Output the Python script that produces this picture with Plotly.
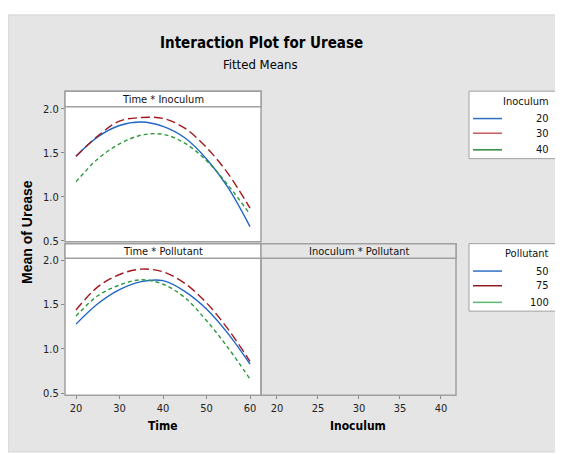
import plotly.graph_objects as go

# page body has an 8px margin, so the figure is drawn 8px smaller and offset
OFF = 8
W, H = 563 - OFF, 454 - OFF

# ---- data ----
time = [20, 25, 30, 35, 40, 45, 50, 55, 60]
inoculum_levels = [20, 30, 40]
pollutant_levels = [50, 75, 100]

inoc_20 = [1.46, 1.68, 1.81, 1.85, 1.80, 1.67, 1.43, 1.10, 0.66]
inoc_30 = [1.46, 1.69, 1.86, 1.90, 1.89, 1.78, 1.56, 1.26, 0.87]
inoc_40 = [1.17, 1.43, 1.60, 1.70, 1.71, 1.61, 1.41, 1.13, 0.80]

poll_50 = [1.28, 1.51, 1.67, 1.76, 1.77, 1.65, 1.45, 1.17, 0.83]
poll_75 = [1.44, 1.70, 1.84, 1.90, 1.87, 1.74, 1.52, 1.22, 0.86]
poll_100 = [1.37, 1.60, 1.72, 1.78, 1.73, 1.58, 1.32, 1.01, 0.66]

y_ticks = [0.5, 1.0, 1.5, 2.0]
time_ticks = [20, 30, 40, 50, 60]
inoc_ticks = [20, 25, 30, 35, 40]

colors = ["#1F66C7", "#A3181E", "#2C9A3C"]
dashes = ["solid", "9px,4px", "4px,3px"]
legend_colors_1 = ["#2F6FC4", "#C85A5E", "#2C8A3C"]
legend_colors_2 = ["#2F6FC4", "#8E1A1E", "#5DB872"]

FONT = "DejaVu Sans Condensed, Liberation Sans Narrow, Roboto, sans-serif"
BORDER = "#A0A0A0"
BG = "#E5E5E5"


def px(x):
    return (x - OFF) / W


def py(y):
    return 1 - (y - OFF) / H


fig = go.Figure()

series_top = [inoc_20, inoc_30, inoc_40]
series_bot = [poll_50, poll_75, poll_100]
for i, ys in enumerate(series_top):
    fig.add_trace(go.Scatter(x=time, y=ys, mode="lines", line=dict(color=colors[i], dash=dashes[i], width=1.4, shape="spline"),
                             xaxis="x", yaxis="y", showlegend=False, hoverinfo="skip"))
for i, ys in enumerate(series_bot):
    fig.add_trace(go.Scatter(x=time, y=ys, mode="lines", line=dict(color=colors[i], dash=dashes[i], width=1.4, shape="spline"),
                             xaxis="x2", yaxis="y2", showlegend=False, hoverinfo="skip"))
fig.add_trace(go.Scatter(x=[None], y=[None], xaxis="x3", yaxis="y3", showlegend=False))

tickfont = dict(family=FONT, size=11, color="#222222")
common = dict(showgrid=False, zeroline=False, showline=False, ticks="outside", ticklen=3,
              tickcolor="#888888", tickwidth=1, tickfont=tickfont, fixedrange=True)

fig.update_layout(
    width=W, height=H, autosize=False,
    margin=dict(l=0, r=0, t=0, b=0),
    paper_bgcolor="white", plot_bgcolor="white",
    xaxis=dict(domain=[px(65), px(261)], range=[17.47, 62.53], anchor="y", showticklabels=False, ticks="",
               showgrid=False, zeroline=False, fixedrange=True),
    yaxis=dict(domain=[py(243), py(105)], range=[0.489, 2.022], anchor="x", tickvals=y_ticks,
               ticktext=[f"{v:.1f}" for v in y_ticks], **common),
    xaxis2=dict(domain=[px(65), px(261)], range=[17.47, 62.53], anchor="y2", tickvals=time_ticks, **common),
    yaxis2=dict(domain=[py(400), py(260)], range=[0.478, 2.022], anchor="x2", tickvals=y_ticks,
                ticktext=[f"{v:.1f}" for v in y_ticks], **common),
    xaxis3=dict(domain=[px(261), px(456)], range=[18.05, 41.83], anchor="y3", tickvals=inoc_ticks, **common),
    yaxis3=dict(domain=[py(400), py(260)], range=[0.478, 2.022], anchor="x3", showticklabels=False, ticks="",
                showgrid=False, zeroline=False, fixedrange=True),
    showlegend=False,
)

shapes = []
shapes.append(dict(type="rect", xref="paper", yref="paper", x0=px(8), x1=px(566), y0=py(458), y1=py(11),
                   fillcolor=BG, line=dict(color="#D2D2D2", width=1), layer="below"))
shapes.append(dict(type="rect", xref="paper", yref="paper", x0=px(65), x1=px(261), y0=py(243), y1=py(105),
                   fillcolor="white", line=dict(width=0), layer="below"))
shapes.append(dict(type="rect", xref="paper", yref="paper", x0=px(65), x1=px(261), y0=py(400), y1=py(260),
                   fillcolor="white", line=dict(width=0), layer="below"))
for (x0, x1, y0, y1) in [(65, 261, 89, 243), (65, 261, 245, 400), (261, 456, 245, 400)]:
    shapes.append(dict(type="rect", xref="paper", yref="paper", x0=px(x0), x1=px(x1), y0=py(y1), y1=py(y0),
                       line=dict(color=BORDER, width=1.5), fillcolor="rgba(0,0,0,0)"))
headers = [((65, 261, 89, 105), "Time * Inoculum"),
           ((65, 261, 245, 260), "Time * Pollutant"),
           ((261, 456, 245, 260), "Inoculum * Pollutant")]
annotations = []
for (x0, x1, y0, y1), txt in headers:
    shapes.append(dict(type="rect", xref="paper", yref="paper", x0=px(x0), x1=px(x1), y0=py(y1), y1=py(y0),
                       fillcolor="white" if "Time" in txt else BG, line=dict(color=BORDER, width=1.5)))
    annotations.append(dict(xref="paper", yref="paper", x=px((x0 + x1) / 2), y=py((y0 + y1) / 2), text=txt,
                            showarrow=False, font=dict(family=FONT, size=11, color="#111111"),
                            xanchor="center", yanchor="middle"))


def legend(box, title, levels, cols, line_ys, title_y):
    x0, x1, y0, y1 = box
    shapes.append(dict(type="rect", xref="paper", yref="paper", x0=px(x0), x1=px(x1), y0=py(y1), y1=py(y0),
                       fillcolor="white", line=dict(color=BORDER, width=1)))
    annotations.append(dict(xref="paper", yref="paper", x=px(551), y=py(title_y), text=title, showarrow=False,
                            font=dict(family=FONT, size=11, color="#111111"), xanchor="right", yanchor="middle"))
    for lvl, c, ly in zip(levels, cols, line_ys):
        shapes.append(dict(type="line", xref="paper", yref="paper", x0=px(473), x1=px(502), y0=py(ly), y1=py(ly),
                           line=dict(color=c, width=1.5)))
        annotations.append(dict(xref="paper", yref="paper", x=px(551), y=py(ly), text=str(lvl), showarrow=False,
                                font=dict(family=FONT, size=11, color="#111111"), xanchor="right", yanchor="middle"))


legend((469, 559, 89, 158), "Inoculum", inoculum_levels, legend_colors_1, [117, 132, 149], 100)
legend((469, 559, 245, 314), "Pollutant", pollutant_levels, legend_colors_2, [273, 288, 305], 255)

annotations.append(dict(xref="paper", yref="paper", x=px(261), y=py(40), text="<b>Interaction Plot for Urease</b>",
                        showarrow=False, font=dict(family=FONT, size=15, color="#000000"), xanchor="center", yanchor="middle"))
annotations.append(dict(xref="paper", yref="paper", x=px(260), y=py(62), text="Fitted Means",
                        showarrow=False, font=dict(family=FONT, size=13, color="#000000"), xanchor="center", yanchor="middle"))
annotations.append(dict(xref="paper", yref="paper", x=px(163), y=py(431), text="<b>Time</b>",
                        showarrow=False, font=dict(family=FONT, size=12, color="#000000"), xanchor="center", yanchor="middle"))
annotations.append(dict(xref="paper", yref="paper", x=px(358), y=py(431), text="<b>Inoculum</b>",
                        showarrow=False, font=dict(family=FONT, size=12, color="#000000"), xanchor="center", yanchor="middle"))
annotations.append(dict(xref="paper", yref="paper", x=px(27), y=py(233), text="<b>Mean of Urease</b>", textangle=-90,
                        showarrow=False, font=dict(family="Liberation Sans, Arial, sans-serif", size=14, color="#000000"),
                        xanchor="center", yanchor="middle"))

fig.update_layout(shapes=shapes, annotations=annotations)
fig.write_html("out.html")
